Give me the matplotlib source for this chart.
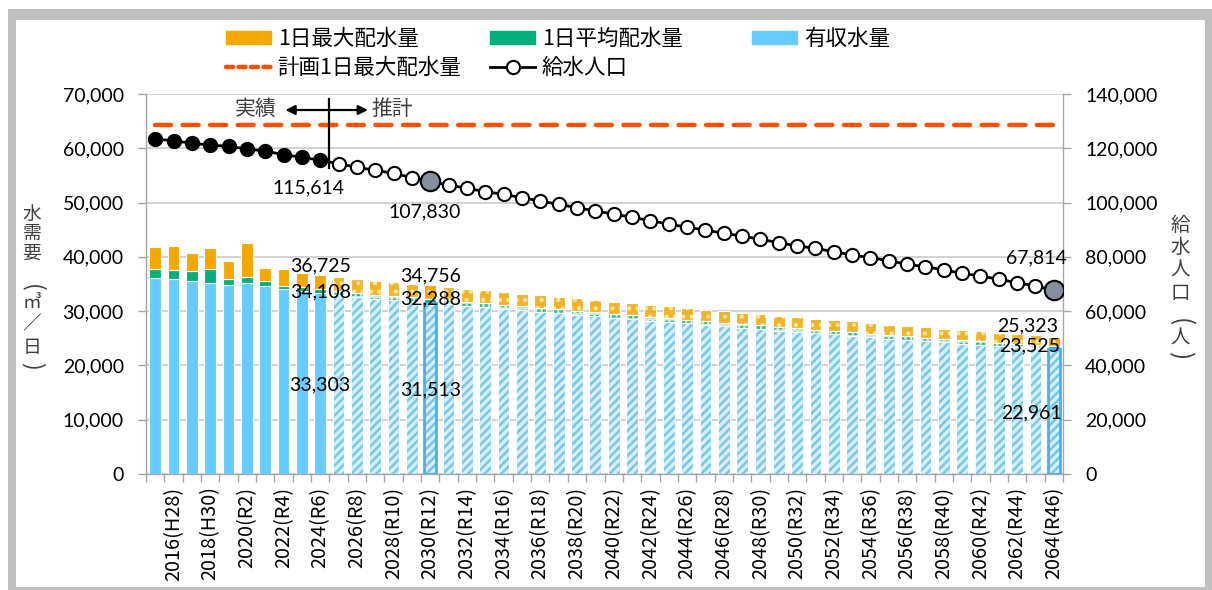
import matplotlib
matplotlib.use('Agg')
import matplotlib.pyplot as plt
from matplotlib.patches import Rectangle, Patch
from matplotlib.lines import Line2D
from matplotlib.ticker import FuncFormatter, FixedLocator

plt.rcParams['font.family'] = ['Lato', 'Noto Sans CJK JP', 'DejaVu Sans']
plt.rcParams['hatch.linewidth'] = 1.8

# ---------------- data ----------------
years = list(range(2015, 2065))
tick_labels = ['2016(H28)', '2018(H30)', '2020(R2)', '2022(R4)', '2024(R6)', '2026(R8)',
               '2028(R10)', '2030(R12)', '2032(R14)', '2034(R16)', '2036(R18)', '2038(R20)',
               '2040(R22)', '2042(R24)', '2044(R26)', '2046(R28)', '2048(R30)', '2050(R32)',
               '2052(R34)', '2054(R36)', '2056(R38)', '2058(R40)', '2060(R42)', '2062(R44)',
               '2064(R46)']
n_actual = 10  # 2015-2024 actual, 2025- forecast

max_flow = [41870, 42050, 40650, 41600, 39240, 42580, 37980, 37760, 37090, 36725,
            36300, 35900, 35550, 35300, 35000, 34756, 34450, 34150, 33850, 33500,
            33250, 32950, 32650, 32350, 32080, 31750, 31450, 31150, 30880, 30580,
            30280, 29980, 29730, 29450, 29150, 28900, 28580, 28350, 28100, 27780,
            27520, 27300, 27020, 26800, 26500, 26300, 26050, 25800, 25560, 25323]
avg_flow = [37760, 37490, 37450, 37820, 35980, 36230, 35520, 34700, 34390, 34108,
            33722, 33350, 33025, 32793, 32514, 32288, 32004, 31725, 31446, 31121,
            30889, 30610, 30331, 30053, 29802, 29495, 29217, 28938, 28687, 28408,
            28130, 27851, 27619, 27359, 27080, 26848, 26551, 26337, 26104, 25807,
            25566, 25361, 25101, 24897, 24618, 24432, 24200, 23968, 23745, 23525]
billed_flow = [36050, 35860, 35520, 35210, 34750, 35240, 34720, 34050, 33770, 33303,
               32913, 32550, 32232, 32006, 31734, 31513, 31236, 30964, 30691, 30374,
               30148, 29876, 29603, 29332, 29087, 28788, 28516, 28244, 27999, 27727,
               27455, 27183, 26956, 26703, 26430, 26204, 25914, 25705, 25478, 25188,
               24953, 24753, 24499, 24300, 24027, 23846, 23620, 23393, 23175, 22961]
population = [123420, 122800, 121830, 121210, 120720, 119740, 119000, 117650, 116670, 115614,
              114300, 113000, 111880, 110780, 109200, 107830, 106470, 105250, 104020, 103040,
              101810, 100580, 99360, 98130, 96890, 95790, 94560, 93330, 92100, 90890,
              89890, 88680, 87680, 86460, 85230, 84000, 83150, 81900, 80680, 79700,
              78590, 77250, 76390, 75160, 73940, 72950, 71730, 70480, 69260, 67814]
plan_max = 64300
highlight_years = [2030, 2064]

# ---------------- colours ----------------
C_MAX = '#F5A800'
C_AVG = '#00B07A'
C_BILL = '#66CCFF'
C_PLAN = '#FF5000'
C_GRID = '#C6C6C6'
C_AXIS = '#A6A6A6'

W, H = 1212, 590
fig = plt.figure(figsize=(W / 100, H / 100), dpi=100)
# frame
fig.patches.append(Rectangle((8 / W, 0), (W - 8) / W, (H - 9) / H, transform=fig.transFigure,
                             facecolor='#BFBFBF', edgecolor='none', zorder=-10))
fig.patches.append(Rectangle((16 / W, 3 / H), 1189 / W, 567 / H, transform=fig.transFigure,
                             facecolor='white', edgecolor='none', zorder=-9))

ax = fig.add_axes([146 / W, (H - 474) / H, (1063 - 146) / W, (474 - 94) / H])
ax.patch.set_alpha(0)
ax2 = ax.twinx()

x = list(range(len(years)))
bw = 0.64

for i in x:
    b, a, m = billed_flow[i], avg_flow[i], max_flow[i]
    hl = years[i] in highlight_years
    if i < n_actual:
        ax.bar(i, b, bw, color=C_BILL, edgecolor='white', linewidth=0.8, zorder=2)
        ax.bar(i, a - b, bw, bottom=b, color=C_AVG, edgecolor='white', linewidth=0.8, zorder=2)
        ax.bar(i, m - a, bw, bottom=a, color=C_MAX, edgecolor='white', linewidth=0.8, zorder=2)
    else:
        ax.bar(i, b, bw, facecolor='#D3F0FB', edgecolor='#78C6E8', linewidth=0, hatch='////', zorder=2)
        if hl:
            ax.bar(i, a - b, bw, bottom=b, color=C_AVG, edgecolor='white', linewidth=0, zorder=2)
            ax.bar(i, m - a, bw, bottom=a, facecolor=C_MAX, edgecolor='#F9D77A', linewidth=0,
                   hatch='..', zorder=2)
        else:
            ax.bar(i, a - b, bw, bottom=b, facecolor='#CDEEE2', edgecolor='#19B585', linewidth=0,
                   hatch='...', zorder=2)
            ax.bar(i, m - a, bw, bottom=a, facecolor='#F0B429', edgecolor='#FBE69C', linewidth=0,
                   hatch='..', zorder=2)
        for bot, hgt in ((0, b), (b, a - b), (a, m - a)):
            ax.bar(i, hgt, bw, bottom=bot, fill=False, edgecolor='white', linewidth=0.8, zorder=3)
        if hl:
            ax.bar(i, b, bw, bottom=0, fill=False, edgecolor='#45B4EE', linewidth=2.0, zorder=4)

# plan line
ax.plot([x[0], x[-1]], [plan_max, plan_max], color=C_PLAN, lw=3.2, dashes=(3.6, 2.6),
        dash_capstyle='round', zorder=5)

# axes styling
ax.set_xlim(-0.5, len(years) - 0.5)
ax.set_ylim(0, 70000)
ax.set_yticks(range(0, 70001, 10000))
fmt = FuncFormatter(lambda v, p: f'{v:,.0f}')
ax.yaxis.set_major_formatter(fmt)
ax.yaxis.grid(True, color=C_GRID, lw=1.1)
ax.set_axisbelow(True)
ax.xaxis.set_major_locator(FixedLocator(list(range(1, len(years), 2))))
ax.set_xticklabels(tick_labels, rotation=90, va='top', ha='center',
                   family=['Noto Sans CJK JP', 'DejaVu Sans'], fontsize=14.3)
ax.xaxis.set_minor_locator(FixedLocator([k - 0.5 for k in range(len(years) + 1)]))
ax.tick_params(axis='x', which='major', length=0, pad=9)
ax.tick_params(axis='x', which='minor', length=6, color=C_AXIS, width=1)
ax.tick_params(axis='y', length=6, color=C_AXIS, width=1, labelsize=14, pad=10)
for s in ('top', 'right'):
    ax.spines[s].set_visible(False)
for s in ('left', 'bottom'):
    ax.spines[s].set_color(C_AXIS)
    ax.spines[s].set_linewidth(1)

ax2.set_ylim(0, 140000)
ax2.set_yticks(range(0, 140001, 20000))
ax2.yaxis.set_major_formatter(fmt)
ax2.tick_params(axis='y', length=6, color=C_AXIS, width=1, labelsize=14, pad=10)
for s in ('top', 'left', 'bottom'):
    ax2.spines[s].set_visible(False)
ax2.spines['right'].set_color(C_AXIS)
ax2.spines['right'].set_linewidth(1)

# population line
ax2.plot(x, population, color='black', lw=2.0, zorder=5)
for i in x:
    if years[i] in highlight_years:
        ax2.plot(i, population[i], 'o', ms=14, mfc='#858F9B', mec='black', mew=1.5, zorder=7)
    elif i < n_actual:
        ax2.plot(i, population[i], 'o', ms=9.5, mfc='black', mec='black', mew=1.5, zorder=6)
    else:
        ax2.plot(i, population[i], 'o', ms=9.5, mfc='white', mec='black', mew=1.5, zorder=6)

# data labels
def lab(axis, i, yv, txt, dx, dy):
    axis.annotate(txt, (i, yv), xytext=(dx, dy), textcoords='offset pixels',
                  ha='center', va='center', fontsize=14, color='black', zorder=8)

for yr, dxa in ((2024, 0), (2030, 0), (2064, -24)):
    i = years.index(yr)
    lab(ax, i, max_flow[i], f'{max_flow[i]:,}', dxa - (2 if yr == 2064 else 0), 9 if yr != 2064 else 11)
    lab(ax, i, avg_flow[i], f'{avg_flow[i]:,}', dxa, -3 if yr == 2024 else 0)
    lab(ax, i, billed_flow[i] / 2, f'{billed_flow[i]:,}', dxa + (2 if yr == 2064 else 0), -1)

i = years.index(2024)
lab(ax2, i, population[i], f'{population[i]:,}', -12, -28)
i = years.index(2030)
lab(ax2, i, population[i], f'{population[i]:,}', -6, -31)
i = years.index(2064)
lab(ax2, i, population[i], f'{population[i]:,}', -17, 32)

# actual / forecast annotation
ax.plot([9.5, 9.5], [69000, 56400], color='black', lw=1.6, zorder=6)
ax.annotate('', xy=(7.1, 67050), xytext=(11.6, 67050),
            arrowprops=dict(arrowstyle='<|-|>', color='black', lw=1.6,
                            mutation_scale=14, shrinkA=0, shrinkB=0), zorder=6)
ax.text(5.5, 67300, '実績', ha='center', va='center', fontsize=15, color='#404040',
        family=['Noto Sans CJK JP'])
ax.text(12.95, 67300, '推計', ha='center', va='center', fontsize=15, color='#404040',
        family=['Noto Sans CJK JP'])

# axis titles (vertical text, one character per cell; brackets turned as in vertical writing)
def vtext(xp, chars, ys, size):
    for ch, yp in zip(chars, ys):
        rot = -90 if ch in '()' else 0
        fig.text(xp / W, 1 - yp / H, ch, ha='center', va='center',
                 fontsize=size * (1.25 if ch in '()' else 1),
                 rotation=rot, family=['Noto Sans CJK JP', 'DejaVu Sans'], color='#404040')

vtext(32, ['水', '需', '要', '(', '㎥', '／', '日', ')'],
      [214, 233, 253, 288, 302, 324, 347, 366], 13.5)
vtext(1180, ['給', '水', '人', '口', '(', '人', ')'],
      [225, 247, 270, 293, 322, 338, 355], 14)

# legends
lkw = dict(loc='upper left', frameon=False, handlelength=2.1, handleheight=0.55,
           handletextpad=0.3, labelspacing=0.32, borderpad=0, borderaxespad=0,
           prop={'family': ['Noto Sans CJK JP'], 'size': 15.5})
h_max = Patch(color=C_MAX)
h_avg = Patch(color=C_AVG)
h_bill = Patch(color=C_BILL)
h_plan = Line2D([], [], color=C_PLAN, lw=3.2, dashes=(1.6, 1.2), dash_capstyle='round')
h_pop = Line2D([], [], color='black', lw=2, marker='o', ms=9.5, mfc='white', mec='black', mew=1.5)
y_leg = 1 - 28 / H
l1 = fig.legend([h_max, h_plan], ['1日最大配水量', '計画1日最大配水量'],
                bbox_to_anchor=(226 / W, y_leg), **lkw)
l2 = fig.legend([h_avg, h_pop], ['1日平均配水量', '給水人口'],
                bbox_to_anchor=(490 / W, y_leg), **lkw)
l3 = fig.legend([h_bill], ['有収水量'], bbox_to_anchor=(752 / W, y_leg), **lkw)

fig.savefig('out.png', dpi=100)
